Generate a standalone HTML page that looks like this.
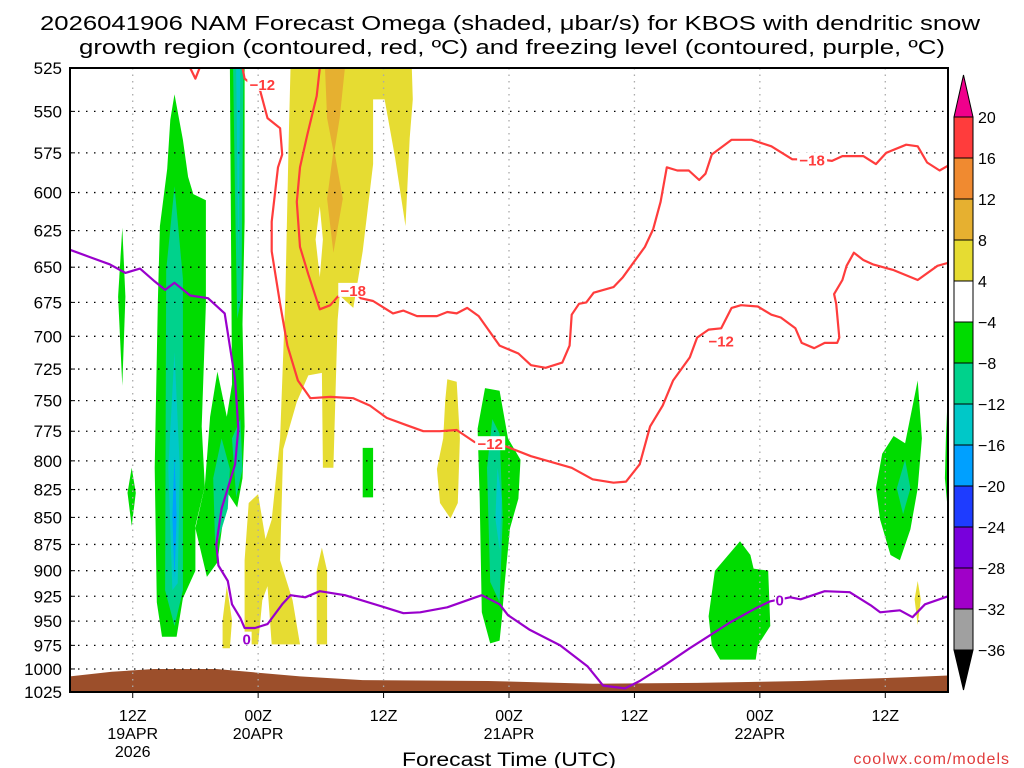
<!DOCTYPE html>
<html><head><meta charset="utf-8">
<style>
html,body{margin:0;padding:0;background:#fff;}
svg{display:block;font-family:"Liberation Sans","DejaVu Sans",sans-serif;}
</style></head>
<body>
<svg id="chart" width="1024" height="768" viewBox="0 0 1024 768" xmlns="http://www.w3.org/2000/svg">
<text x="40" y="30" font-size="20" textLength="940" lengthAdjust="spacingAndGlyphs">2026041906 NAM Forecast Omega (shaded, μbar/s) for KBOS with dendritic snow</text>
<text x="79" y="54" font-size="20" textLength="866" lengthAdjust="spacingAndGlyphs">growth region (contoured, red, ºC) and freezing level (contoured, purple, ºC)</text>
<g id="shade"></g>
<g id="grid"></g>
<g id="lines"></g>
<g id="axes"></g>
<g id="cbar"></g>
<text x="402" y="766" font-size="19" textLength="214" lengthAdjust="spacingAndGlyphs">Forecast Time (UTC)</text>
<text x="1010" y="764" text-anchor="end" font-size="16" fill="#e03c3c" letter-spacing="1">coolwx.com/models</text>
</svg>
<script>
// ---- data ----
const pressureTicks=[525,550,575,600,625,650,675,700,725,750,775,800,825,850,875,900,925,950,975,1000,1025];
const timeTickHours=[6,18,30,42,54,66,78];
const timeTickLabels=[["12Z","19APR","2026"],["00Z","20APR"],["12Z"],["00Z","21APR"],["12Z"],["00Z","22APR"],["12Z"]];
const colorbarLevels=["20","16","12","8","4","−4","−8","−12","−16","−20","−24","−28","−32","−36"];
const colorbarColors=["#ff3c3c","#f08a30","#e6b030","#e6dc32","#ffffff","#00dc00","#00d28c","#00c8c8","#00a0ff","#1e3cff","#7800dc","#a000c8","#a0a0a0"];
const surfacePressure=[[0,1008],[4,1003],[8,1000],[14,1000],[18,1004],[22,1008],[28,1012],[40,1013],[50,1016],[60,1015],[70,1013],[80,1009],[84,1007]];
const freezingLevel=[[0,638],[1.9,643],[3.8,648],[5.3,654],[6.7,651],[8.1,660],[9.1,666],[10,661],[11.5,670],[13.2,672],[14.8,683],[15.8,733],[16.1,773],[15.8,803],[14.5,842],[14,875],[14.2,895],[15.1,910],[15.5,933],[16.3,947],[16.7,957],[17.7,957],[18.9,953],[20.3,933],[21.1,924],[22.5,926],[23.9,920],[26.3,924],[30.1,936],[31.9,942],[33.5,941],[36.1,936],[38.8,926],[39.4,924],[41.1,933],[41.9,944],[44,959],[46.9,975],[49.5,997],[51,1018],[53.1,1021],[54.5,1013],[56.9,996],[59.3,978],[63.2,951],[65.6,937],[67,930],[68.9,926],[69.9,928],[72.2,920],[74.6,921],[76.6,934],[77.5,941],[79.4,939],[80.6,946],[81.8,933],[84,925]];
const minus12West=[[16.5,525],[16.7,531],[18.2,538],[18.9,554],[20.1,560],[20.3,576],[19.9,584],[19.3,619],[19.3,639],[20.1,676],[20.8,707],[21.8,734],[23,748],[24.9,747],[27.1,748],[28.7,754],[30.3,764],[32.2,770],[33.8,775],[35.4,775],[37,774],[38.7,784],[41.5,787],[44.1,796],[48,806],[50,816],[52,819],[53.2,818],[54.5,803],[55.5,771],[56.7,754],[57.7,734],[59.3,716],[60,701],[61.1,695],[62.3,694],[63.3,679],[64.2,677],[65.8,678],[67.1,684],[68,686],[69.4,694],[70,705],[71.2,709],[72.2,705],[73.4,705],[73.6,701],[73.3,676],[73.1,669],[73.9,659],[74.3,649],[75,640],[75.9,645],[76.8,648],[78.8,652],[81.1,659],[83,649],[84,647]];
const minus18=[[23.9,525],[23.6,541],[22.7,564],[22,584],[21.7,606],[22,636],[22.8,655],[23.9,680],[24.9,677],[25.6,671],[27.1,666],[27.8,672],[29,674],[30.9,683],[31.9,681],[33.2,685],[35.1,685],[36.1,682],[37,683],[38,679],[39.1,685],[41.1,707],[42.9,713],[44.1,722],[45.5,724],[47.1,720],[47.8,707],[48,684],[48.7,676],[49.4,675],[50.1,668],[52,664],[52.9,657],[55,636],[55.8,624],[56.5,606],[57.1,584],[58.1,586],[59.2,586],[60.2,592],[60.8,588],[61.4,576],[63.3,567],[65.2,567],[67.1,571],[69.1,579],[71.7,579],[72.9,580],[73.9,577],[75.9,577],[77.1,582],[78.1,575],[80,570],[81.1,571],[82,581],[83.2,586],[84,583]];
const minus12Notch=[[11.5,525],[12,531],[12.4,525]];
const redLabels=[["−12",18.4,534],["−12",40.2,785],["−12",62.3,703],["−18",27.1,666],["−18",71.0,579]];
const purpleLabels=[["0",16.9,968],["0",67.9,928]];
// omega shaded regions: [colorIndex, polygon of [hour, hPa]]
const omegaAreas=[
[5,[[10,540],[10.8,567],[11.3,590],[11.8,601],[13,605],[13,676],[12.6,771],[12.9,822],[12,858],[12,900],[10.8,927],[10.2,966],[8.8,966],[8.3,931],[8.1,806],[8.4,676],[8.6,622],[9.3,585],[9.6,555]]],
[5,[[15.3,525],[15.5,737],[15,763],[14.1,727],[13.4,763],[12.9,822],[12,860],[13.1,906],[14.1,892],[15,827],[16,841],[16.5,815],[16.7,771],[16.5,691],[16.7,619],[16.7,525]]],
[5,[[5,623],[5.3,671],[5,738],[4.6,671]]],
[5,[[5.9,806],[6.3,828],[5.9,858],[5.5,828]]],
[5,[[28,789],[29,789],[29,832],[28,832]]],
[6,[[10,596],[10.8,658],[10.8,919],[10,955],[9.1,919],[9.2,652]]],
[7,[[10,712],[10.5,806],[10.3,912],[9.8,919],[9.4,806]]],
[8,[[10,796],[10.2,849],[10,908],[9.8,849]]],
[6,[[15.6,525],[16.6,525],[16.4,672],[16,687],[15.8,605]]],
[7,[[15.9,525],[16.3,525],[16.1,644]]],
[6,[[13.7,815],[14.5,781],[15.3,807],[15.1,842],[13.9,880]]],
[6,[[15.5,781],[16.3,765],[16.5,807],[15.9,832]]],
[3,[[21.1,525],[32.7,525],[32.8,543],[32.5,566],[32.1,622],[31.1,578],[30.1,543],[29,543],[29,582],[28,639],[27.1,679],[25.8,670],[25.6,688],[25.2,806],[24.2,806],[24.1,728],[22.8,730],[21.7,751],[20.4,790],[20.1,890],[21.3,929],[22,974],[19.3,974],[18.9,915],[18.4,929],[18,974],[16.7,974],[16.7,890],[17.1,837],[18,829],[18.7,870],[19.3,852],[20.1,781],[20.6,672],[20.9,572]]],
[3,[[15,915],[15.5,949],[15.3,978],[14.6,978],[14.6,949]]],
[3,[[24.1,878],[24.6,900],[24.6,974],[23.6,974],[23.6,900]]],
[2,[[24.4,525],[26.3,525],[25.8,554],[25.3,574],[26.1,604],[25.2,640],[24.6,604],[25.2,574],[24.6,554]]],
[4,[[23.9,609],[24.2,631],[23.9,657],[23.5,631]]],
[3,[[36.1,733],[37,735],[37.3,781],[37.1,837],[36.4,851],[35.4,837],[35.1,807],[35.7,781],[35.9,750]]],
[3,[[81.1,910],[81.4,928],[81.1,954],[80.8,928]]],
[5,[[39.7,740],[41.1,742],[41.9,781],[43.1,799],[42.9,833],[42.1,860],[41.6,911],[41.3,949],[41.1,970],[40.2,973],[39.4,941],[39.2,833],[39,773]]],
[6,[[40.4,765],[41.1,777],[41.4,851],[41.1,931],[40.2,911],[39.9,806]]],
[7,[[40.9,806],[41.3,833],[41.1,880],[40.7,851]]],
[5,[[64.1,872],[65.1,885],[65.4,898],[66.8,900],[67,955],[65.8,975],[65.6,990],[62.2,990],[61.4,975],[61.1,945],[61.7,900]]],
[5,[[81.1,734],[81.5,781],[81.1,824],[80.4,861],[79.4,890],[78.5,885],[77.5,852],[77.1,824],[77.7,794],[78.8,779],[79.9,785]]],
[6,[[79.9,799],[80.4,824],[79.7,847],[79.1,824]]],
[5,[[84.5,740],[83.8,781],[83.7,815],[84.5,846]]]
];
// ---- layout ----
const X0=70,X1=948,Y0=68,Y1=692,H0=0,H1=84,P0=525,P1=1025;
const xS=h=>X0+(h-H0)/(H1-H0)*(X1-X0);
const yS=p=>Y0+(Math.log(p)-Math.log(P0))/(Math.log(P1)-Math.log(P0))*(Y1-Y0);
const NS="http://www.w3.org/2000/svg";
function mk(tag,attrs,parent){const e=document.createElementNS(NS,tag);for(const k in attrs)e.setAttribute(k,attrs[k]);parent.appendChild(e);return e;}
const shade=document.getElementById('shade'),grid=document.getElementById('grid'),lines=document.getElementById('lines'),axes=document.getElementById('axes'),cbar=document.getElementById('cbar');
const pts=a=>a.map(d=>xS(Math.min(Math.max(d[0],H0),H1)).toFixed(1)+","+yS(d[1]).toFixed(1)).join(" ");
const defs=mk('defs',{},shade);const cp=mk('clipPath',{id:'plotclip'},defs);mk('rect',{x:X0,y:Y0,width:X1-X0,height:Y1-Y0},cp);
shade.setAttribute('clip-path','url(#plotclip)');lines.setAttribute('clip-path','url(#plotclip)');
omegaAreas.forEach((a,i)=>{const e=mk('polygon',{points:pts(a[1]),fill:colorbarColors[a[0]]},shade);

});
const g=[[H0,P1]].concat(surfacePressure,[[H1,P1]]);
const ground=mk('polygon',{points:pts(g),fill:'#9c4f2b'},shade);


pressureTicks.forEach(p=>{const y=yS(p);
const l=mk('line',{x1:X0,x2:X1,y1:y,y2:y,stroke:'#000','stroke-width':1.3,'stroke-dasharray':'1.5,6.5'},grid);


const t=mk('text',{x:62,y:y+6,'text-anchor':'end','font-size':17},axes);t.textContent=p;


mk('line',{x1:X0,x2:X0+5,y1:y,y2:y,stroke:'#000'},axes);});
timeTickHours.forEach((h,i)=>{const x=xS(h);
const l=mk('line',{x1:x,x2:x,y1:Y0,y2:Y1,stroke:'#aaa','stroke-width':1.3,'stroke-dasharray':'1.5,5'},grid);


mk('line',{x1:x,x2:x,y1:Y1,y2:Y1+6,stroke:'#000'},axes);
timeTickLabels[i].forEach((s,j)=>{const t=mk('text',{x:x,y:721+j*18,'text-anchor':'middle','font-size':16},axes);t.textContent=s;

});});
function line(arr,col,name){const e=mk('polyline',{points:pts(arr),fill:'none',stroke:col,'stroke-width':2.2,'stroke-linejoin':'round'},lines);

}
line(minus12West,'#ff3c3c','dgz-minus12-contour');
line(minus18,'#ff3c3c','dgz-minus18-contour');
line(minus12Notch,'#ff3c3c','dgz-minus12-notch');
line(freezingLevel,'#9900cc','freezing-level-contour');
function labels(arr,col,nm){arr.forEach((d,i)=>{const x=xS(d[1]),y=yS(d[2]);
mk('rect',{x:x-(d[0].length*5),y:y-7,width:d[0].length*10,height:14,fill:'#fff'},lines);
const t=mk('text',{x:x,y:y+6,'text-anchor':'middle','font-size':15,'font-weight':'bold',fill:col},lines);t.textContent=d[0];

});}
labels(redLabels,'#ff3c3c','dgz-contour-label');
labels(purpleLabels,'#9900cc','freezing-contour-label');
const fr=mk('rect',{x:X0,y:Y0,width:X1-X0,height:Y1-Y0,fill:'none',stroke:'#000','stroke-width':2},axes);


const CX=954,CW=19,CT=117,CB=650,bh=(CB-CT)/colorbarColors.length;
const tu=mk('polygon',{points:`${CX},${CT} ${CX+CW},${CT} ${CX+CW/2},75`,fill:'#f0008c',stroke:'#000'},cbar);


const td=mk('polygon',{points:`${CX},${CB} ${CX+CW},${CB} ${CX+CW/2},690`,fill:'#000',stroke:'#000'},cbar);


colorbarColors.forEach((c,i)=>{const r=mk('rect',{x:CX,y:CT+i*bh,width:CW,height:bh,fill:c,stroke:'#000','stroke-width':1},cbar);

});
colorbarLevels.forEach((s,i)=>{const t=mk('text',{x:978,y:CT+i*bh+6,'font-size':16},cbar);t.textContent=s;

});
</script>
</body></html>
